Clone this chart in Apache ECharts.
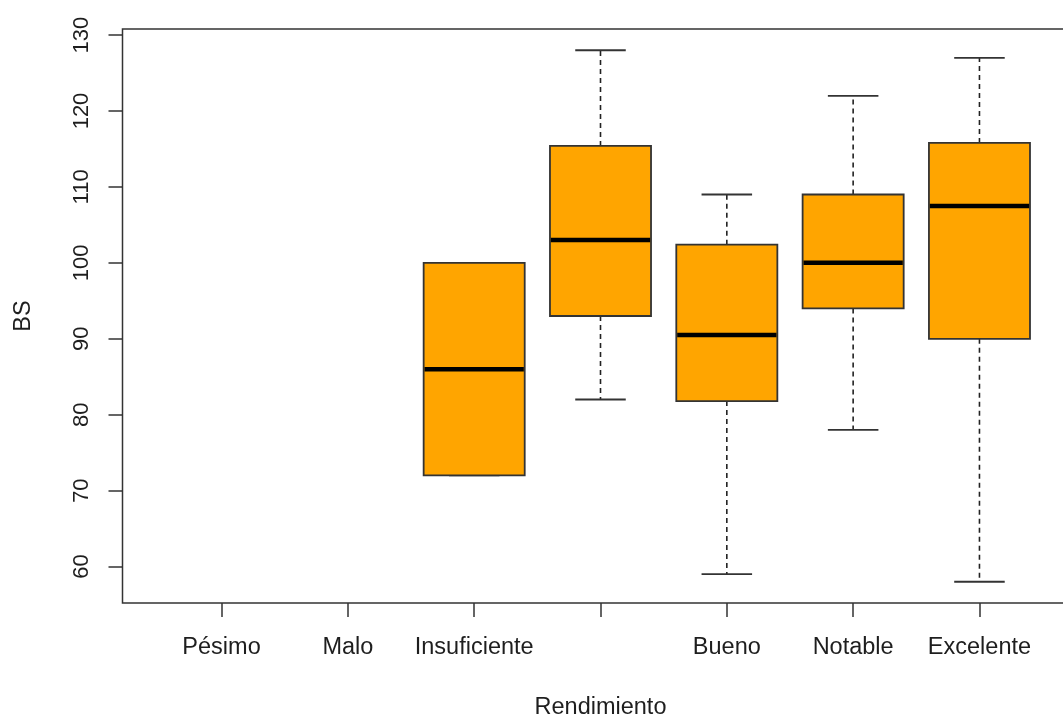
<!DOCTYPE html>
<html>
<head>
<meta charset="utf-8">
<script src="https://cdn.jsdelivr.net/npm/echarts@6/dist/echarts.min.js"></script>
<style>
  html, body { margin: 0; padding: 0; background: #fff; }
  #chart { width: 1063px; height: 716px; }
</style>
</head>
<body>
<div id="chart"></div>
<script>
// Rendimiento groups and their tick labels (the 4th label is left blank on the axis)
const categories = ["Pésimo", "Malo", "Insuficiente", "Suficiente", "Bueno", "Notable", "Excelente"];
const tickLabels = ["Pésimo", "Malo", "Insuficiente", "", "Bueno", "Notable", "Excelente"];

// Five-number summaries of BS per group (null = no observations)
const whiskerLow  = [null, null, 72,  82,    59,   78,  58];
const q1          = [null, null, 72,  93,    81.8, 94,  90];
const median      = [null, null, 86,  103,   90.5, 100, 107.5];
const q3          = [null, null, 100, 115.4, 102.4, 109, 115.8];
const whiskerHigh = [null, null, 100, 128,   109,  122, 127];

const yTicks = [60, 70, 80, 90, 100, 110, 120, 130];

const FONT = "'Liberation Sans', Arial, sans-serif";
const TEXT = '#1e1e1e';
const LINE = '#333';

const boxData = [];
categories.forEach(function (c, i) {
  if (median[i] == null) return;
  boxData.push([i + 1, whiskerLow[i], q1[i], median[i], q3[i], whiskerHigh[i]]);
});

function renderBox(params, api) {
  const x = api.value(0);
  const boxW = api.size([0.8, 0])[0];
  const capW = boxW / 2;
  const pLow = api.coord([x, api.value(1)]);
  const pQ1 = api.coord([x, api.value(2)]);
  const pMed = api.coord([x, api.value(3)]);
  const pQ3 = api.coord([x, api.value(4)]);
  const pHigh = api.coord([x, api.value(5)]);
  const cx = pMed[0];
  const dash = { stroke: '#222', lineWidth: 1.6, lineDash: [5, 4] };
  const solid = { stroke: '#333', lineWidth: 1.8 };
  const children = [];
  // whiskers (dashed) and caps
  if (pHigh[1] < pQ3[1] - 0.5) {
    children.push({ type: 'line', shape: { x1: cx, y1: pQ3[1], x2: cx, y2: pHigh[1] }, style: dash });
  }
  if (pLow[1] > pQ1[1] + 0.5) {
    children.push({ type: 'line', shape: { x1: cx, y1: pQ1[1], x2: cx, y2: pLow[1] }, style: dash });
  }
  children.push({ type: 'line', shape: { x1: cx - capW / 2, y1: pHigh[1], x2: cx + capW / 2, y2: pHigh[1] }, style: solid });
  children.push({ type: 'line', shape: { x1: cx - capW / 2, y1: pLow[1], x2: cx + capW / 2, y2: pLow[1] }, style: solid });
  // box
  children.push({
    type: 'rect',
    shape: { x: cx - boxW / 2, y: pQ3[1], width: boxW, height: pQ1[1] - pQ3[1] },
    style: { fill: '#FFA500', stroke: '#333', lineWidth: 1.8 }
  });
  // median
  children.push({
    type: 'line',
    shape: { x1: cx - boxW / 2 + 0.9, y1: pMed[1], x2: cx + boxW / 2 - 0.9, y2: pMed[1] },
    style: { stroke: '#000', lineWidth: 4.5 }
  });
  return { type: 'group', children: children };
}

const chart = echarts.init(document.getElementById('chart'), null, { renderer: 'canvas' });
chart.setOption({
  animation: false,
  backgroundColor: '#fff',
  grid: {
    show: true,
    left: 122.5,
    top: 29,
    right: -15.5,
    bottom: 113,
    borderColor: LINE,
    borderWidth: 1.5,
    backgroundColor: 'transparent',
    containLabel: false,
    outerBoundsMode: 'none'
  },
  xAxis: {
    type: 'value',
    min: 0.216,
    max: 7.784,
    name: 'Rendimiento',
    nameLocation: 'middle',
    nameGap: 93,
    nameTextStyle: { fontFamily: FONT, fontSize: 23.5, color: TEXT },
    splitLine: { show: false },
    axisLine: { show: false },
    axisTick: {
      show: true,
      length: 14,
      lineStyle: { color: LINE, width: 1.5 },
      customValues: categories.map(function (c, i) { return i + 1; })
    },
    axisLabel: {
      margin: 33,
      fontFamily: FONT,
      fontSize: 23.5,
      color: TEXT,
      customValues: categories.map(function (c, i) { return i + 1; }),
      formatter: function (v) { return tickLabels[Math.round(v) - 1]; }
    }
  },
  yAxis: {
    type: 'value',
    min: 55.2,
    max: 130.8,
    name: 'BS',
    nameLocation: 'middle',
    nameGap: 87,
    nameRotate: 90,
    nameTextStyle: { fontFamily: FONT, fontSize: 23.5, color: TEXT },
    splitLine: { show: false },
    axisLine: { show: false },
    axisTick: {
      show: true,
      length: 14,
      lineStyle: { color: LINE, width: 1.5 },
      customValues: yTicks
    },
    axisLabel: {
      rotate: 90,
      margin: 30,
      fontFamily: FONT,
      fontSize: 22,
      color: TEXT,
      customValues: yTicks
    }
  },
  series: [{
    type: 'custom',
    renderItem: renderBox,
    clip: false,
    encode: { x: 0, y: [1, 2, 3, 4, 5] },
    data: boxData
  }]
});
</script>
</body>
</html>
